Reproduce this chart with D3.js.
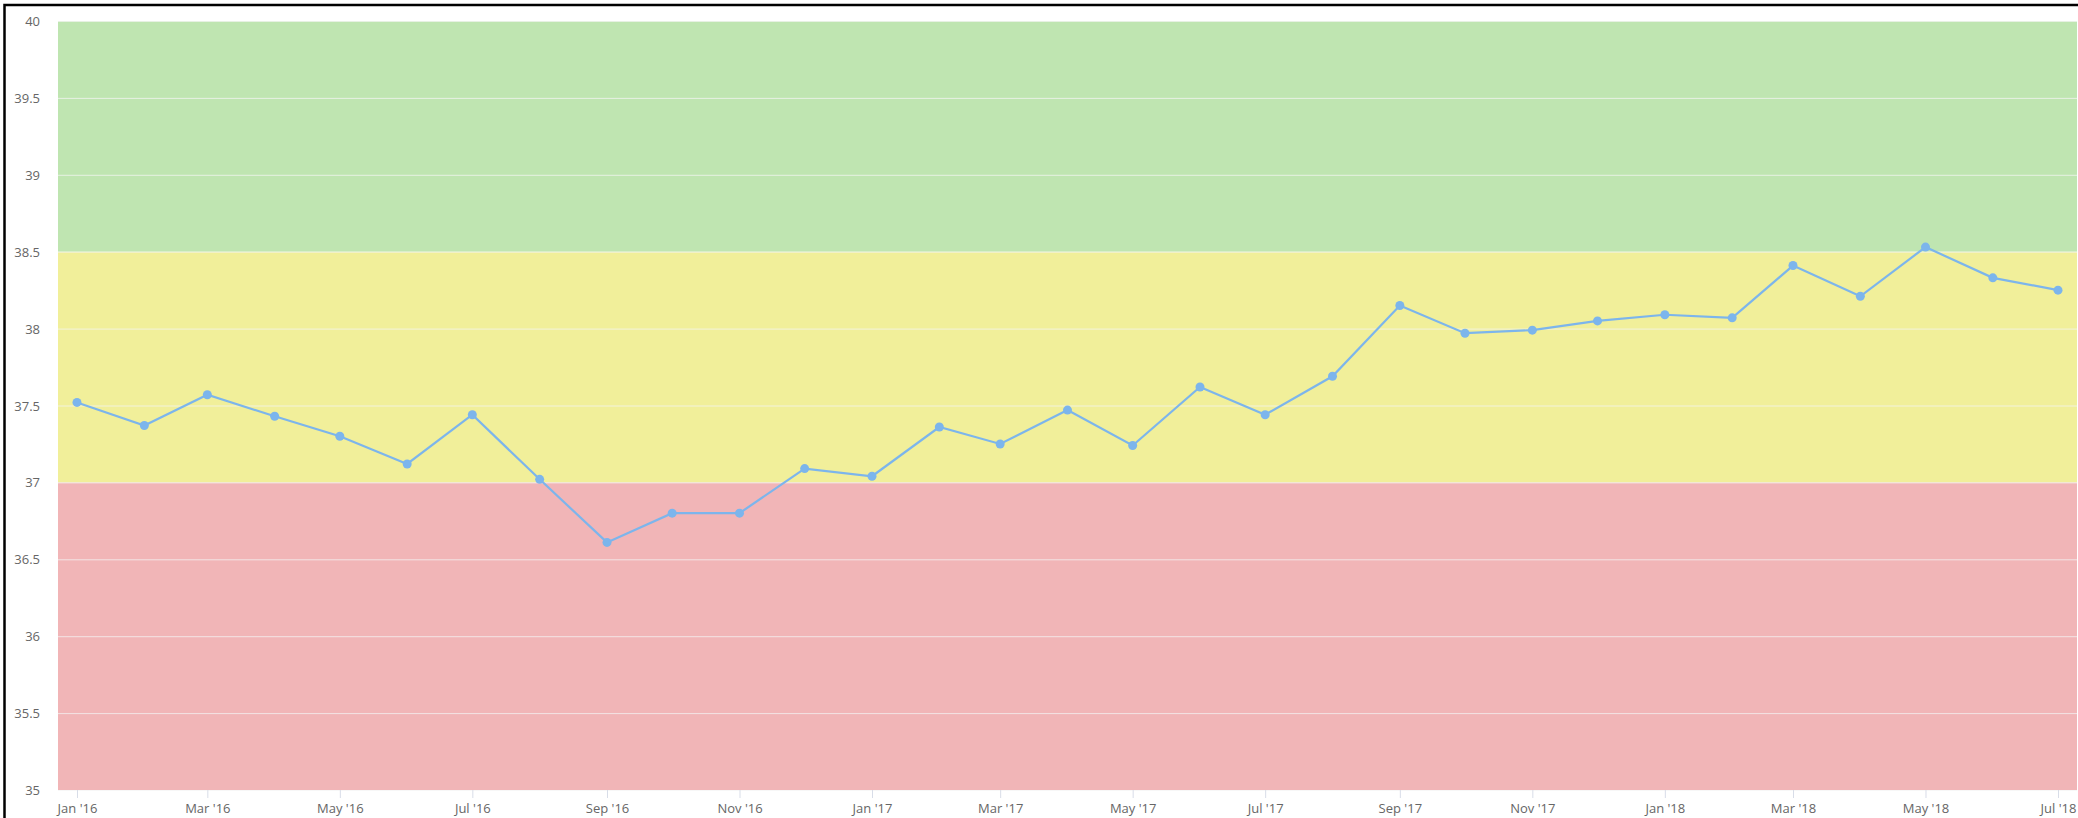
<!DOCTYPE html>
<html>
<head>
<meta charset="utf-8">
<script src="https://cdn.jsdelivr.net/npm/d3@7"></script>
<style>
  html, body { margin: 0; padding: 0; background: #fff; overflow: hidden; }
  svg { display: block; }
  .tick text { font-family: "Open Sans", sans-serif; font-size: 13px; fill: #666; }
</style>
</head>
<body>
<div id="chart"></div>
<script>
// monthly readings
var months = ["2016-01","2016-02","2016-03","2016-04","2016-05","2016-06","2016-07","2016-08","2016-09","2016-10","2016-11","2016-12",
              "2017-01","2017-02","2017-03","2017-04","2017-05","2017-06","2017-07","2017-08","2017-09","2017-10","2017-11","2017-12",
              "2018-01","2018-02","2018-03","2018-04","2018-05","2018-06","2018-07"];
var values = [37.52, 37.37, 37.57, 37.43, 37.30, 37.12, 37.44, 37.02, 36.61, 36.80, 36.80, 37.09,
              37.04, 37.36, 37.25, 37.47, 37.24, 37.62, 37.44, 37.69, 38.15, 37.97, 37.99, 38.05,
              38.09, 38.07, 38.41, 38.21, 38.53, 38.33, 38.25];

var xTickMonths = ["2016-01","2016-03","2016-05","2016-07","2016-09","2016-11","2017-01","2017-03",
                   "2017-05","2017-07","2017-09","2017-11","2018-01","2018-03","2018-05","2018-07"];
var yTicks = [35, 35.5, 36, 36.5, 37, 37.5, 38, 38.5, 39, 39.5, 40];

// background bands
var bandFrom = [35, 37, 38.5];
var bandTo = [37, 38.5, 40];
var bandColors = ["#f1b5b7", "#f1ef9a", "#bfe5b1"];

var width = 2078,
    height = 818;
var plot = { left: 58, top: 21, right: 2077, bottom: 790 };

var parseMonth = d3.timeParse("%Y-%m");
var data = months.map(function(m, i) { return { date: parseMonth(m), value: values[i] }; });

var x = d3.scaleTime()
          .domain([parseMonth(months[0]), parseMonth(months[months.length - 1])])
          .range([plot.left + 19, plot.right - 19]);

var y = d3.scaleLinear()
          .domain([35, 40])
          .range([plot.bottom, plot.top]);

var svg = d3.select("#chart")
            .append("svg")
            .attr("width", width)
            .attr("height", height);

// bands
svg.selectAll("rect.band")
   .data(bandFrom)
   .enter().append("rect")
   .attr("class", "band")
   .attr("x", plot.left)
   .attr("width", plot.right - plot.left)
   .attr("y", function(d, i) { return y(bandTo[i]); })
   .attr("height", function(d, i) { return y(d) - y(bandTo[i]); })
   .style("fill", function(d, i) { return bandColors[i]; });

// grid lines + y labels
var yAxis = svg.append("g")
               .attr("transform", "translate(" + plot.left + ",0)")
               .call(d3.axisLeft(y)
                       .tickValues(yTicks)
                       .tickSize(-(plot.right - plot.left))
                       .tickPadding(18)
                       .tickFormat(function(d) { return d; }));
yAxis.select(".domain").remove();
yAxis.selectAll(".tick line")
     .style("stroke", "#f4f4f4")
     .style("stroke-opacity", 0.75);
yAxis.selectAll(".tick text").attr("dy", "0.35em");

// x axis
var xAxis = svg.append("g")
               .attr("transform", "translate(0," + plot.bottom + ")")
               .call(d3.axisBottom(x)
                       .tickValues(xTickMonths.map(parseMonth))
                       .tickSize(8)
                       .tickPadding(6)
                       .tickFormat(d3.timeFormat("%b '%y")));
xAxis.select(".domain").remove();
xAxis.selectAll(".tick line").style("stroke", "#d8dde8");

// line
var line = d3.line()
             .x(function(d) { return x(d.date); })
             .y(function(d) { return y(d.value); });

svg.append("path")
   .datum(data)
   .attr("d", line)
   .style("fill", "none")
   .style("stroke", "#7cb5ec")
   .style("stroke-width", 2.2);

svg.selectAll("circle.pt")
   .data(data)
   .enter().append("circle")
   .attr("class", "pt")
   .attr("cx", function(d) { return x(d.date); })
   .attr("cy", function(d) { return y(d.value); })
   .attr("r", 4.5)
   .style("fill", "#7cb5ec");

// frame (top and left edges)
svg.append("path")
   .attr("d", "M4.5," + height + "V5H" + width)
   .style("fill", "none")
   .style("stroke", "#000")
   .style("stroke-width", 2.5);
</script>
</body>
</html>
